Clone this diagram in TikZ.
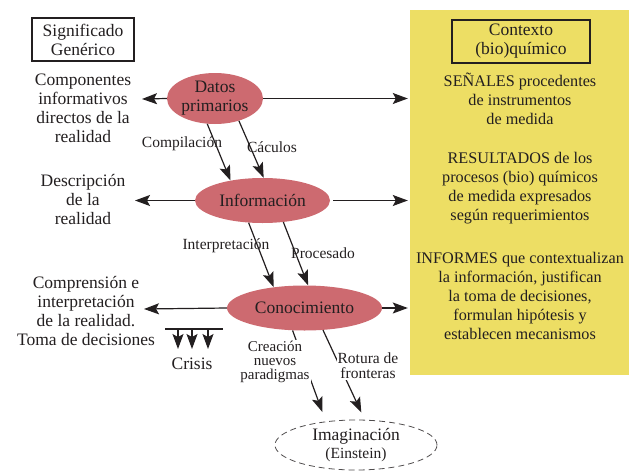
\documentclass[tikz,border=0pt]{standalone}
\usepackage{fontspec}
\setmainfont{Liberation Serif}
\usetikzlibrary{arrows.meta,shapes.geometric}
\definecolor{ellfill}{RGB}{205,106,112}
\definecolor{yel}{RGB}{237,222,100}
\definecolor{ink}{RGB}{35,31,32}
\begin{document}
\begin{tikzpicture}[x=1pt,y=-1pt,
  every node/.style={text=ink, align=center, inner sep=0pt, font=\fontsize{17.5}{19}\selectfont},
  ell/.style={ellipse, fill=ellfill},
  arr/.style={draw=ink, line width=1.2pt, -{Stealth[length=15pt,width=11pt,inset=3pt]}},
  lbl/.style={font=\fontsize{15.5}{16}\selectfont},
  ylw/.style={font=\fontsize{16.2}{19}\selectfont},
  titlebox/.style={draw=ink, line width=1.5pt, minimum height=43pt}]
\useasboundingbox (0,0) rectangle (629,471);

% yellow context panel
\node[fill=yel, minimum width=219pt, minimum height=365pt] (ctx) at (519.5,192.5) {};
\node[titlebox, minimum width=138pt] (ctxt) at (521,41.5) {Contexto\\(bio)químico};
\node[ylw] (senal) at (520,99) {SEÑALES procedentes\\de instrumentos\\de medida};
\node[ylw] (resul) at (520,188) {RESULTADOS de los\\procesos (bio) químicos\\de medida expresados\\según requerimientos};
\node[ylw] (infor) at (520,296) {INFORMES que contextualizan\\la información, justifican\\la toma de decisiones,\\formulan hipótesis y\\establecen mecanismos};

% left column
\node[titlebox, minimum width=102pt] (sig) at (83,39.5) {Significado\\Genérico};
\node (compo) at (83,108) {Componentes\\informativos\\directos de la\\realidad};
\node (descr) at (83,199.5) {Descripción\\de la\\realidad};
\node (compr) at (86,311) {Comprensión e\\interpretación\\de la realidad.\\Toma de decisiones};

% ellipses
\node[ell, minimum width=96pt, minimum height=51pt] (datos) at (215,98.5) {Datos\\primarios};
\node[ell, minimum width=135pt, minimum height=45pt] (info) at (262.5,200.5) {Información};
\node[ell, minimum width=155pt, minimum height=45pt] (cono) at (304.5,308) {Conocimiento};
\node[ellipse, draw=ink!80, dashed, dash pattern=on 6pt off 4pt, line width=0.8pt,
      minimum width=162pt, minimum height=50pt] (imag) at (356,445)
      {Imaginación\\[-1pt]{\fontsize{15.5}{16}\selectfont (Einstein)}};

% free ends of horizontal arrows
\coordinate (dL) at (142,99);
\coordinate (iL) at (135,200.5);
\coordinate (cL) at (144,309);

\draw[arr] (datos.west) -- (dL);
\draw[arr] (info.west) -- (iL);
\draw[arr] (cono.west) -- (cL);
\draw[arr, shorten >=2pt] (datos.east) -- (datos.east -| ctx.west);
\draw[arr, shorten >=2pt] (info.east) ++(3,0) -- (info.east -| ctx.west);
\draw[arr, shorten >=2pt] (cono.east) -- (cono.east -| ctx.west);

% diagonal arrows
\draw[arr] (datos.-107) -- (info.148);
\draw[arr] (datos.-43) -- (info.87);
\draw[arr] (info.-122) -- (cono.146);
\draw[arr] (info.-46) -- (cono.81);
\draw[arr, shorten >=10pt] (cono.-118) -- (imag.142);
\draw[arr, shorten >=8pt] (cono.-50) -- (imag.71);

% labels
\node[lbl] (lcomp) at (182,144) {Compilación};
\node[lbl] (lcacu) at (272,147.5) {Cáculos};
\node[lbl] (linte) at (226,246) {Interpretación};
\node[lbl] (lproc) at (323,253) {Procesado};
\node[lbl, fill=white, inner sep=1pt, font=\fontsize{15}{14}\selectfont] (lcrea) at (275,361.5) {Creación\\nuevos\\paradigmas};
\node[lbl, fill=white, inner sep=1pt, font=\fontsize{15.5}{15}\selectfont] (lrot) at (368,366) {Rotura de\\fronteras};

% crisis
\coordinate (crA) at (165,329);
\coordinate (crB) at (223,329);
\draw[draw=ink, line width=1.2pt] (crA) -- (crB);
\foreach \xx/\nm in {178/a,192/b,208/c}{
  \coordinate (cs\nm) at (\xx,329);
  \coordinate (ce\nm) at (\xx,349);
  \draw[arr] (cs\nm) -- (ce\nm);
}
\node (crisis) at (192,364) {Crisis};
\end{tikzpicture}
\end{document}
